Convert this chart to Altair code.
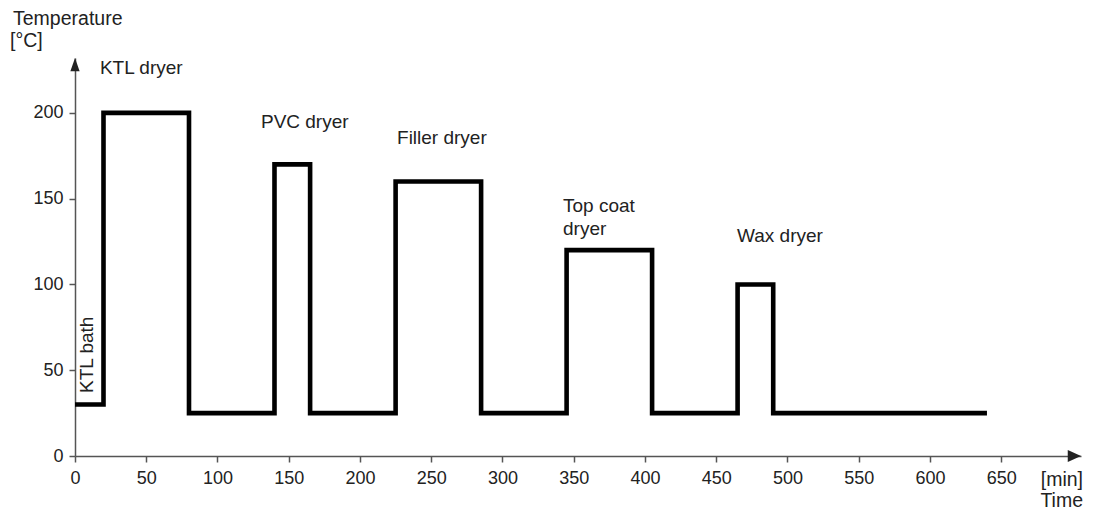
import altair as alt
import pandas as pd

# Temperature profile (step-after): time [min] and temperature [°C]
time_min = [0, 20, 80, 140, 165, 225, 285, 345, 405, 465, 490, 640]
temp_c = [30, 200, 25, 170, 25, 160, 25, 120, 25, 100, 25, 25]

# Process annotations
label_text = ["KTL dryer", "PVC dryer", "Filler dryer", "Top coat", "dryer", "Wax dryer"]
label_x = [17.5, 130.5, 226, 342.5, 342.5, 464.6]
label_y = [222.7, 191.3, 182, 142.3, 128.9, 124.8]

bath_text = ["KTL bath"]
bath_x = [12.4]
bath_y = [36.7]

x_ticks = list(range(0, 651, 50))
y_ticks = list(range(0, 201, 50))

X_MAX = 706
Y_MAX = 232
FONT = "Liberation Sans"
AXIS_COLOR = "#555555"
TEXT_COLOR = "#222222"

xs = alt.Scale(domain=[0, X_MAX], nice=False, zero=False)
ys = alt.Scale(domain=[0, Y_MAX], nice=False, zero=False)

x_axis = alt.Axis(
    values=x_ticks, title=None, grid=False, domainColor=AXIS_COLOR,
    domainWidth=1.5, tickColor=AXIS_COLOR, tickWidth=1.5, tickSize=6,
    labelFont=FONT, labelFontSize=18, labelColor=TEXT_COLOR,
    labelPadding=7, labelFlush=False)
y_axis = alt.Axis(
    values=y_ticks, title=None, grid=False, domainColor=AXIS_COLOR,
    domainWidth=1.5, tickColor=AXIS_COLOR, tickWidth=1.5, tickSize=6,
    labelFont=FONT, labelFontSize=18, labelColor=TEXT_COLOR,
    labelPadding=6, labelFlush=False)


def X(field):
    return alt.X(field, type="quantitative", scale=xs, axis=x_axis)


def Y(field):
    return alt.Y(field, type="quantitative", scale=ys, axis=y_axis)


profile = pd.DataFrame({"t": time_min, "T": temp_c})
labels = pd.DataFrame({"text": label_text, "x": label_x, "y": label_y})
bath = pd.DataFrame({"text": bath_text, "x": bath_x, "y": bath_y})

line = alt.Chart(profile).mark_line(
    interpolate="step-after", color="black", strokeWidth=4.6,
    strokeJoin="miter", strokeCap="butt"
).encode(x=X("t"), y=Y("T"))

ann = alt.Chart(labels).mark_text(
    align="left", baseline="alphabetic", font=FONT, fontSize=19, color=TEXT_COLOR
).encode(x=X("x"), y=Y("y"), text="text:N")

bath_lbl = alt.Chart(bath).mark_text(
    align="left", baseline="alphabetic", angle=270, font=FONT, fontSize=19,
    color=TEXT_COLOR
).encode(x=X("x"), y=Y("y"), text="text:N")

axis_titles = pd.DataFrame({
    "text": ["Temperature", "[°C]", "[min]", "Time"],
    "x": [-43.5, -45.6, 707.4, 707.4],
    "y": [251.3, 238.5, -17.5, -29.8],
})

titles_left = alt.Chart(axis_titles.iloc[:2]).mark_text(
    align="left", baseline="alphabetic", font=FONT, fontSize=19.5, color=TEXT_COLOR
).encode(x=X("x"), y=Y("y"), text="text:N")

titles_right = alt.Chart(axis_titles.iloc[2:]).mark_text(
    align="right", baseline="alphabetic", font=FONT, fontSize=19.5, color=TEXT_COLOR
).encode(x=X("x"), y=Y("y"), text="text:N")

up_arrow = alt.Chart(pd.DataFrame({"x": [0], "y": [Y_MAX]})).mark_point(
    shape="M0,0L0.35,1L-0.35,1Z", size=700, filled=True, opacity=1,
    color="#222222", strokeWidth=0
).encode(x=X("x"), y=Y("y"))

right_arrow = alt.Chart(pd.DataFrame({"x": [X_MAX], "y": [0]})).mark_point(
    shape="M0,0L-1,0.45L-1,-0.45Z", size=700, filled=True, opacity=1,
    color="#222222", strokeWidth=0
).encode(x=X("x"), y=Y("y"))

chart = alt.layer(
    line, ann, bath_lbl, titles_left, titles_right, up_arrow, right_arrow
).properties(
    width=1006, height=398,
    autosize=alt.AutoSizeParams(type="none"),
    padding={"left": 67, "top": 50, "right": 5, "bottom": 56},
    background="white",
).configure_view(stroke=None)

chart.save("out.html", embed_options={"renderer": "svg", "actions": False})
